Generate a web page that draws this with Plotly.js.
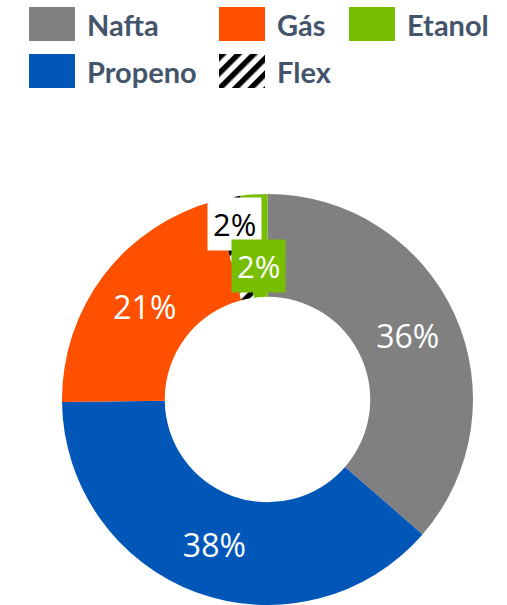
<!DOCTYPE html>
<html>
<head>
<meta charset="utf-8">
<script src="https://cdn.plot.ly/plotly-3.0.1.min.js"></script>
<style>html,body{margin:0;padding:0;background:#fff;}#chart{width:507px;height:605px;}</style>
</head>
<body>
<div id="chart"></div>
<script>
// Data (clockwise from 12 o'clock)
const labels = ['Nafta', 'Propeno', 'Gás', 'Flex', 'Etanol'];
const values = [36.4, 38.4, 21.1, 2.0, 2.1];
const colors = ['#808080', '#0057B8', '#FF5000', '#FFFFFF', '#78BE00'];
const patterns = ['', '', '', '/', ''];
// Legend layout order (row by row)
const legendOrder = ['Nafta', 'Gás', 'Etanol', 'Propeno', 'Flex'];

const W = 507, H = 605;
const px = x => x / W;
const py = y => 1 - y / H;

const total = values.reduce((a, b) => a + b, 0);
const pct = v => Math.round(v / total * 100) + '%';
const big = values.map(v => v / total >= 0.05);

const pie = {
  type: 'pie',
  labels: labels,
  values: values,
  sort: false,
  direction: 'clockwise',
  rotation: 0,
  hole: 0.5,
  marker: {
    colors: colors,
    line: {width: 0},
    pattern: {shape: patterns, fgcolor: '#000000', size: 11, solidity: 0.5}
  },
  texttemplate: values.map((v, i) => big[i] ? '%{percent:.0%}' : ''),
  textposition: 'inside',
  insidetextorientation: 'horizontal',
  textfont: {family: 'Open Sans, sans-serif', size: 32, color: '#FFFFFF'},
  domain: {x: [px(61), px(474)], y: [0, py(194)]},
  showlegend: false,
  hoverinfo: 'label+percent'
};

// Legend (custom, to reproduce the swatch grid)
const legendPos = {
  'Nafta':   {x: 29,  y: 7},
  'Gás':     {x: 219, y: 7},
  'Etanol':  {x: 349, y: 7},
  'Propeno': {x: 29,  y: 54},
  'Flex':    {x: 219, y: 54}
};
const sw = 46, sh = 34;
const shapes = [];
const annotations = [];
const images = [];
const hatchSvg = '<svg xmlns="http://www.w3.org/2000/svg" width="46" height="34">' +
  '<defs><pattern id="p" width="11" height="11" patternUnits="userSpaceOnUse" patternTransform="rotate(45)">' +
  '<rect width="5.5" height="11" fill="#000"/></pattern></defs>' +
  '<rect width="46" height="34" fill="#fff"/><rect width="46" height="34" fill="url(#p)"/></svg>';
legendOrder.forEach(name => {
  const i = labels.indexOf(name);
  const p = legendPos[name];
  if (patterns[i]) {
    images.push({
      source: 'data:image/svg+xml;base64,' + btoa(hatchSvg),
      xref: 'paper', yref: 'paper', x: px(p.x), y: py(p.y),
      sizex: sw / W, sizey: sh / H, xanchor: 'left', yanchor: 'top', sizing: 'stretch', layer: 'above'
    });
  } else {
    shapes.push({type: 'rect', xref: 'paper', yref: 'paper',
      x0: px(p.x), x1: px(p.x + sw), y0: py(p.y + sh), y1: py(p.y),
      fillcolor: colors[i], line: {width: 0}});
  }
  annotations.push({xref: 'paper', yref: 'paper', x: px(p.x + sw + 10), y: py(p.y + sh / 2),
    xanchor: 'left', yanchor: 'middle', showarrow: false, text: '<b>' + name + '</b>',
    font: {family: 'Lato, sans-serif', size: 29, color: '#44546A'}});
});

// Labels for the small slices
const iFlex = labels.indexOf('Flex');
const iEt = labels.indexOf('Etanol');
annotations.push({xref: 'paper', yref: 'paper', x: px(234), y: py(224), showarrow: false,
  text: pct(values[iFlex]), bgcolor: '#FFFFFF', borderpad: 5,
  font: {family: 'Open Sans, sans-serif', size: 31, color: '#000000'}});
annotations.push({xref: 'paper', yref: 'paper', x: px(258), y: py(266), showarrow: false,
  text: pct(values[iEt]), bgcolor: colors[iEt], borderpad: 5,
  font: {family: 'Open Sans, sans-serif', size: 31, color: '#FFFFFF'}});

const layout = {
  width: W, height: H,
  margin: {l: 0, r: 0, t: 0, b: 0},
  paper_bgcolor: '#FFFFFF',
  showlegend: false,
  shapes: shapes,
  images: images,
  annotations: annotations
};

Plotly.newPlot('chart', [pie], layout, {displayModeBar: false, staticPlot: true});
</script>
</body>
</html>
